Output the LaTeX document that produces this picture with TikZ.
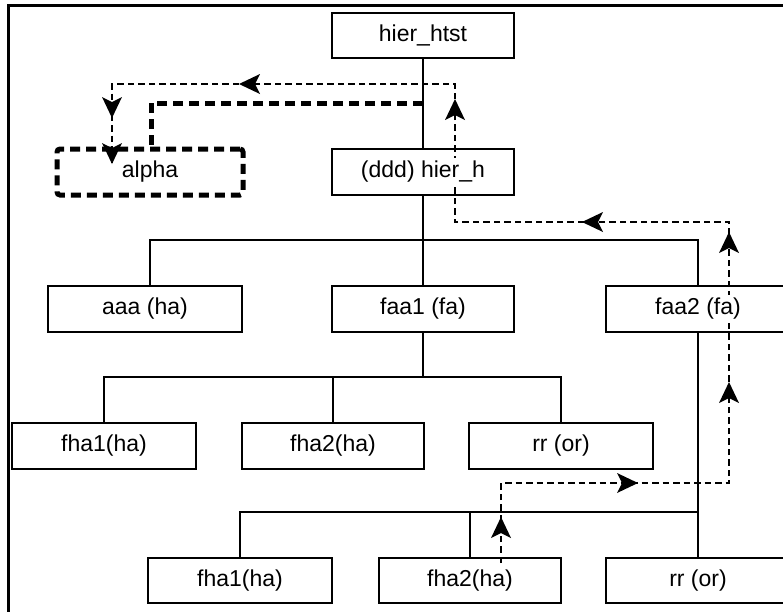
\documentclass[tikz,border=0pt]{standalone}
\usepackage{fontspec}
\setmainfont{Liberation Sans}
\usetikzlibrary{arrows.meta,decorations.markings,calc}
\pgfdeclarelayer{bg}
\pgfsetlayers{bg,main}
\newcommand{\myarrowhead}{\fill[solid] (1pt,0pt) -- (-20pt,10pt) -- (-15pt,0pt) -- (-20pt,-10pt) -- cycle;}
\begin{document}
\begin{tikzpicture}[x=1pt,y=-1pt,
  box/.style={draw, line width=2pt, rectangle, inner sep=0pt, minimum height=46pt},
  txt/.style={fill=white, inner sep=3pt, font=\fontsize{23pt}{27pt}\selectfont},
  conn/.style={line width=2pt},
  thindash/.style={line width=2.8pt, dash pattern=on 6.5pt off 4pt},
  thickdash/.style={line width=5pt, dash pattern=on 10pt off 6pt},
  frame/.style={line width=3pt}]
\useasboundingbox (0,0) rectangle (783,611);
% frame
\coordinate (fbl) at (8.5,620);
\coordinate (ftl) at (8.5,5);
\coordinate (ftr) at (790,5);
\draw[frame] (fbl) -- (ftl) -- (ftr);
% boxes
\node[box, minimum width=182pt, minimum height=45pt, label={[txt]center:hier\_htst}] (htst) at (423,35.5) {};
\node[box, minimum width=182pt, label={[txt]center:(ddd) hier\_h}] (hierh) at (423,172) {};
\node[draw, thickdash, rounded corners=3pt, minimum width=186pt, minimum height=46pt, inner sep=0pt,
      font=\fontsize{23pt}{27pt}\selectfont] (alpha) at (150,172) {alpha};
\node[box, minimum width=194pt, label={[txt]center:aaa (ha)}] (aaa) at (145,309) {};
\node[box, minimum width=182pt, label={[txt]center:faa1 (fa)}] (faa1) at (423,309) {};
\node[box, minimum width=184pt, label={[txt]center:faa2 (fa)}] (faa2) at (698,309) {};
\node[box, minimum width=184pt, label={[txt]center:fha1(ha)}] (fha1a) at (104,446) {};
\node[box, minimum width=182pt, label={[txt]center:fha2(ha)}] (fha2a) at (333,446) {};
\node[box, minimum width=184pt, label={[txt]center:rr (or)}] (rra) at (561,446) {};
\node[box, minimum width=184pt, minimum height=45pt, label={[txt]center:fha1(ha)}] (fha1b) at (240,580.5) {};
\node[box, minimum width=182pt, minimum height=45pt, label={[txt]center:fha2(ha)}] (fha2b) at (470,580.5) {};
\node[box, minimum width=184pt, minimum height=45pt, label={[txt]center:rr (or)}] (rrb) at (698,580.5) {};
% bus coordinates
\coordinate (b1L) at (150,240);
\coordinate (b1R) at (698,240);
\coordinate (b2) at (0,377);
\coordinate (b3) at (0,512);
\begin{pgfonlayer}{bg}
% solid connectors
\draw[conn] (htst.south) -- (hierh.north);
\draw[conn] (hierh.south) -- (faa1.north);
\draw[conn] (aaa.north -| b1L) -- (b1L) -- (b1R) -- (faa2.north);
\draw[conn] (faa1.south) -- (faa1.south |- b2);
\draw[conn] (fha1a.north) -- (fha1a.north |- b2) -- (rra.north |- b2) -- (rra.north);
\draw[conn] (fha2a.north) -- (fha2a.north |- b2);
\draw[conn] (faa2.south) -- (rrb.north);
\draw[conn] (fha1b.north) -- (fha1b.north |- b3) -- (rrb.north |- b3);
\draw[conn] (fha2b.north) -- (fha2b.north |- b3);
% thin dashed route
\coordinate (d0) at (501,563);
\coordinate (d1) at (501,483);
\coordinate (d2) at (729,483);
\coordinate (d3) at (729,222);
\coordinate (d4) at (455,222);
\coordinate (d5) at (455,84);
\coordinate (d6) at (112,84);
\coordinate (d7) at (112,163);
\draw[thindash, postaction={decorate}, decoration={markings,
   mark=at position 45pt with {\myarrowhead},
   mark=at position 216pt with {\myarrowhead},
   mark=at position 408pt with {\myarrowhead},
   mark=at position 558pt with {\myarrowhead},
   mark=at position 715pt with {\myarrowhead},
   mark=at position 965pt with {\myarrowhead},
   mark=at position 1196pt with {\myarrowhead},
   mark=at position 1357pt with {\myarrowhead},
   mark=at position 1 with {\myarrowhead}}]
  (d0) -- (d1) -- (d2) -- (d3) -- (d4) -- (d5) -- (d6) -- (d7);
% thick dashed
\coordinate (t0) at (423,103);
\coordinate (t1) at (151,103);
\draw[thickdash] (t0) -- (t1) -- (t1 |- alpha.north);
\end{pgfonlayer}
\end{tikzpicture}
\end{document}
